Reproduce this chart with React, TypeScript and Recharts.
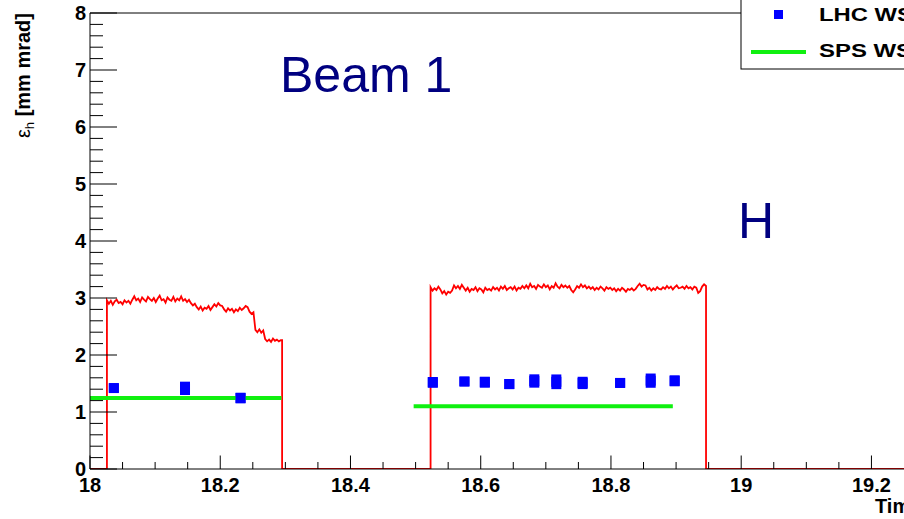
import { ComposedChart, Line, Scatter, ErrorBar, XAxis, YAxis, ReferenceLine } from 'recharts';

const FONT = '"Liberation Sans", Arial, Helvetica, sans-serif';

// axis ticks
const xTicks = [
  18, 18.05, 18.1, 18.15, 18.2, 18.25, 18.3, 18.35, 18.4, 18.45, 18.5, 18.55, 18.6,
  18.65, 18.7, 18.75, 18.8, 18.85, 18.9, 18.95, 19, 19.05, 19.1, 19.15, 19.2,
];
const xMajorTicks = [18, 18.2, 18.4, 18.6, 18.8, 19, 19.2];
const xTickLabels = ['18', '18.2', '18.4', '18.6', '18.8', '19', '19.2'];
const yTicks = [
  0, 0.2, 0.4, 0.6, 0.8, 1, 1.2, 1.4, 1.6, 1.8, 2, 2.2, 2.4, 2.6, 2.8, 3, 3.2, 3.4, 3.6, 3.8,
  4, 4.2, 4.4, 4.6, 4.8, 5, 5.2, 5.4, 5.6, 5.8, 6, 6.2, 6.4, 6.6, 6.8, 7, 7.2, 7.4, 7.6, 7.8, 8,
];
const yMajorTicks = [0, 1, 2, 3, 4, 5, 6, 7, 8];
const yTickLabels = ['0', '1', '2', '3', '4', '5', '6', '7', '8'];

// red trace (beam emittance from monitor), sampled every 0.003 h
const sampleStep = 0.003;
const redBlock1Start = 18.026;
const redBlock1End = 18.295;
const redBlock1 = [
  2.96, 2.9, 2.95, 2.88, 2.94, 2.97, 2.91, 2.93, 2.89, 2.96, 2.92, 2.95, 2.9, 2.97,
  3.03, 2.96, 2.99, 2.93, 3.01, 2.97, 2.94, 3.02, 2.98, 2.95, 3.0, 2.93, 2.99, 3.04, 2.96,
  2.98, 2.92, 3.01, 2.97, 2.95, 3.02, 2.94, 2.99, 2.96, 3.03, 2.95, 2.98, 2.93, 2.97,
  2.91, 2.87, 2.9, 2.84,
  2.8, 2.85, 2.78, 2.83, 2.81, 2.86, 2.79, 2.84,
  2.89, 2.85, 2.91, 2.87, 2.86,
  2.8, 2.76, 2.82, 2.78, 2.81, 2.75, 2.8, 2.77, 2.83, 2.79, 2.82,
  2.86, 2.84,
  2.76, 2.72, 2.75,
  2.44, 2.4, 2.45, 2.39, 2.43,
  2.28, 2.24, 2.27, 2.23, 2.29, 2.25, 2.27, 2.24, 2.26,
];
const redBlock2Start = 18.523;
const redBlock2End = 18.946;
const redBlock2 = [
  3.19, 3.13, 3.17, 3.14, 3.2, 3.15,
  3.08, 3.12, 3.06, 3.11, 3.09, 3.13,
  3.22, 3.17, 3.21, 3.16, 3.23, 3.18,
  3.13, 3.18, 3.11, 3.16, 3.14, 3.19, 3.12, 3.17, 3.15, 3.1, 3.18, 3.14, 3.16, 3.13,
  3.19, 3.15, 3.18, 3.13, 3.2, 3.16, 3.21, 3.14, 3.17, 3.19, 3.15, 3.2, 3.13, 3.18, 3.16, 3.21, 3.17,
  3.22, 3.17, 3.25, 3.19, 3.21, 3.16, 3.23, 3.2, 3.18, 3.24, 3.19, 3.22, 3.15, 3.21, 3.18, 3.26,
  3.2, 3.17, 3.23, 3.19, 3.22, 3.18, 3.21,
  3.14, 3.1, 3.15,
  3.21, 3.18, 3.24, 3.19, 3.22, 3.17, 3.2,
  3.16, 3.19, 3.14, 3.18, 3.15, 3.2, 3.17, 3.13, 3.19, 3.16, 3.18,
  3.14, 3.17, 3.12, 3.16, 3.13, 3.18, 3.15, 3.11, 3.16, 3.14, 3.17, 3.13, 3.16,
  3.21, 3.25, 3.2, 3.23, 3.22,
  3.15, 3.18, 3.13, 3.17, 3.14, 3.19, 3.16, 3.15,
  3.19, 3.16, 3.21, 3.17, 3.2, 3.15, 3.19, 3.22, 3.17, 3.18, 3.2, 3.16, 3.21, 3.17, 3.19, 3.15, 3.2, 3.18,
  3.09, 3.12,
  3.2, 3.24, 3.21,
];

// LHC wire scanner points
const lhcTimes = [
  18.0366, 18.1459, 18.2312,
  18.5264, 18.575, 18.6063, 18.6439, 18.6823, 18.7161, 18.7565, 18.8141, 18.861, 18.8978,
];
const lhcValues = [1.42, 1.415, 1.245, 1.52, 1.535, 1.523, 1.49, 1.544, 1.53, 1.51, 1.51, 1.55, 1.547];
const lhcErrors = [0.082, 0.117, 0.093, 0.094, 0.085, 0.096, 0.088, 0.117, 0.129, 0.108, 0.085, 0.125, 0.096];

// SPS wire scanner levels
const spsStart = [18.0, 18.497];
const spsEnd = [18.294, 18.895];
const spsValues = [1.245, 1.1];

const samples = (start: number, vals: number[]) => vals.map((v, i) => ({ t: start + i * sampleStep, v }));

const redTrace = [
  { t: 18, v: 0 },
  { t: redBlock1Start, v: 0 },
  ...samples(redBlock1Start, redBlock1),
  { t: redBlock1End, v: redBlock1[redBlock1.length - 1] },
  { t: redBlock1End, v: 0 },
  { t: redBlock2Start, v: 0 },
  ...samples(redBlock2Start, redBlock2),
  { t: redBlock2End, v: 0 },
  { t: 19.25, v: 0 },
];

const lhcData = lhcTimes.map((t, i) => ({ t, v: lhcValues[i], err: lhcErrors[i] }));
const spsData = spsValues.map((v, i) => [
  { t: spsStart[i], v },
  { t: spsEnd[i], v },
]);

const findMajor = (list: number[], v: number) => list.findIndex((m) => Math.abs(m - v) < 1e-6);

function XTick(props: any) {
  const { x, y, payload } = props;
  const i = findMajor(xMajorTicks, payload.value);
  return (
    <g>
      <line x1={x} x2={x} y1={y} y2={y - (i >= 0 ? 13.5 : 7)} stroke="#000" />
      {i >= 0 && (
        <text x={x} y={y + 23} textAnchor="middle" fontFamily={FONT} fontWeight="bold" fontSize={20} fill="#000">
          {xTickLabels[i]}
        </text>
      )}
    </g>
  );
}

function YTick(props: any) {
  const { x, y, payload } = props;
  const i = findMajor(yMajorTicks, payload.value);
  return (
    <g>
      <line x1={x} x2={x + (i >= 0 ? 27 : 13)} y1={y} y2={y} stroke="#000" />
      {i >= 0 && (
        <text x={x - 4} y={y + 7} textAnchor="end" fontFamily={FONT} fontWeight="bold" fontSize={20} fill="#000">
          {yTickLabels[i]}
        </text>
      )}
    </g>
  );
}

const lhcMarker = (props: any) => (
  <rect x={props.cx - 5} y={props.cy - 5} width={10} height={10} fill="#0000ff" />
);

export default function App() {
  return (
    <div style={{ position: 'absolute', left: 0, top: 0, width: 904, height: 519, overflow: 'hidden', background: '#fff' }}>
      <ComposedChart width={904} height={519} margin={{ top: 13, right: 0, bottom: 0, left: 0 }}>
        <XAxis
          type="number"
          dataKey="t"
          domain={[18, 19.25]}
          ticks={xTicks}
          interval={0}
          allowDataOverflow
          height={50}
          tickSize={0}
          tickMargin={0}
          tickLine={false}
          axisLine={{ stroke: '#000' }}
          tick={<XTick />}
        />
        <YAxis
          type="number"
          dataKey="v"
          domain={[0, 8]}
          ticks={yTicks}
          interval={0}
          allowDataOverflow
          width={90}
          tickSize={0}
          tickMargin={0}
          tickLine={false}
          axisLine={{ stroke: '#000' }}
          tick={<YTick />}
        />
        <ReferenceLine y={8} stroke="#000" />
        <Line
          data={redTrace}
          dataKey="v"
          type="linear"
          stroke="#ff0000"
          strokeWidth={1.8}
          dot={false}
          isAnimationActive={false}
        />
        <Scatter data={lhcData} dataKey="v" fill="#0000ff" shape={lhcMarker} isAnimationActive={false}>
          <ErrorBar dataKey="err" direction="y" width={0} strokeWidth={10} stroke="#0000ff" />
        </Scatter>
        {spsData.map((d, i) => (
          <Line
            key={i}
            data={d}
            dataKey="v"
            type="linear"
            stroke="#10f010"
            strokeWidth={4}
            dot={false}
            isAnimationActive={false}
          />
        ))}
      </ComposedChart>
      <svg width={904} height={519} style={{ position: 'absolute', left: 0, top: 0, pointerEvents: 'none' }}>
        <text x={280} y={92} fontFamily={FONT} fontSize={50} fill="#000080">Beam 1</text>
        <text x={738} y={238} fontFamily={FONT} fontSize={50} fill="#000080">H</text>
        <text transform="rotate(-90 30 13)" x={30} y={13} textAnchor="end" fontFamily={FONT} fontSize={20} fill="#000">
          <tspan>ε</tspan>
          <tspan fontSize={13} dy={4}>h</tspan>
          <tspan dy={-4} fontWeight="bold"> [mm mrad]</tspan>
        </text>
        <text x={875} y={513} fontFamily={FONT} fontWeight="bold" fontSize={20} fill="#000">Time [h]</text>
        <rect x={741} y={-5} width={300} height={74} fill="#fff" stroke="#000" />
        <rect x={774} y={10} width={9} height={9} fill="#0000ff" />
        <text x={819} y={21} fontFamily={FONT} fontWeight="bold" fontSize={19} textLength={94} lengthAdjust="spacingAndGlyphs" fill="#000">LHC WS</text>
        <line x1={751} x2={806} y1={52} y2={52} stroke="#10f010" strokeWidth={4} />
        <text x={819} y={57} fontFamily={FONT} fontWeight="bold" fontSize={19} textLength={93} lengthAdjust="spacingAndGlyphs" fill="#000">SPS WS</text>
      </svg>
    </div>
  );
}
